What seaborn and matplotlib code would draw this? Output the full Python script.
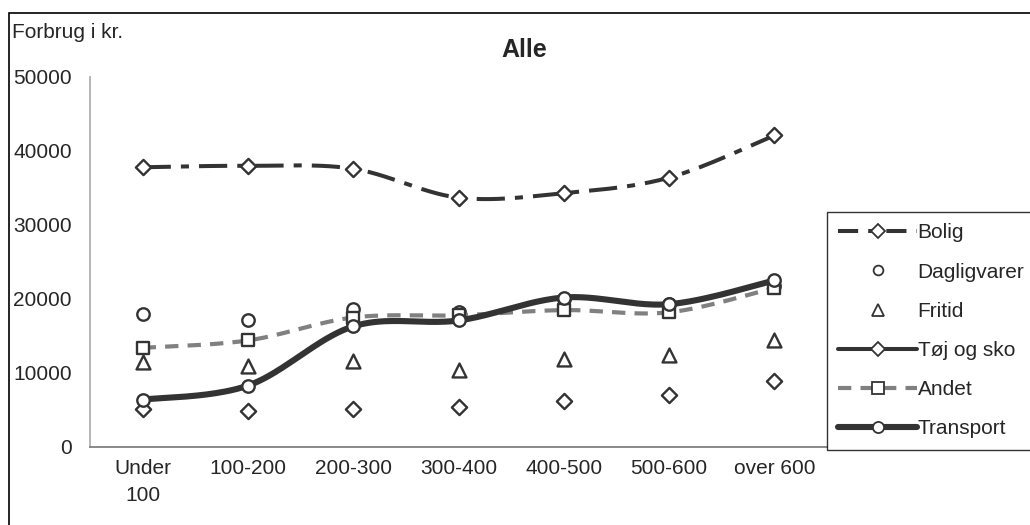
import numpy as np
import pandas as pd
import matplotlib
matplotlib.use("Agg")
import matplotlib.pyplot as plt
from matplotlib.lines import Line2D
from matplotlib.patches import Rectangle
import seaborn as sns

# Income groups (1000 kr.) and yearly spending per category (kr.)
categories = ["Under\n100", "100-200", "200-300", "300-400", "400-500", "500-600", "over 600"]
bolig = [37800, 38000, 37600, 33700, 34300, 36400, 42100]
dagligvarer = [18000, 17100, 18600, 18300, 20000, 19300, 21800]
fritid = [11500, 11000, 11600, 10400, 11900, 12400, 14500]
toj_og_sko = [5100, 4900, 5100, 5400, 6200, 7000, 8900]
andet = [13400, 14400, 17500, 17800, 18500, 18200, 21500]
transport = [6400, 8300, 16300, 17100, 20200, 19300, 22500]
y_ticks = [0, 10000, 20000, 30000, 40000, 50000]

DARK = "#333333"
GREY = "#808080"
FS = 15

sns.set_style("white")
plt.rcParams["font.family"] = ["Liberation Sans", "DejaVu Sans"]
plt.rcParams["font.size"] = FS


def smooth(ys, n=40):
    """Spreadsheet-style smoothed line: cubic Bezier through every point."""
    pts = np.column_stack([np.arange(len(ys), dtype=float), np.asarray(ys, float)])
    out = []
    for i in range(len(pts) - 1):
        p0 = pts[max(i - 1, 0)]
        p1 = pts[i]
        p2 = pts[i + 1]
        p3 = pts[min(i + 2, len(pts) - 1)]
        c1 = p1 + (p2 - p0) / 6.0
        c2 = p2 - (p3 - p1) / 6.0
        t = np.linspace(0, 1, n, endpoint=(i == len(pts) - 2))[:, None]
        seg = ((1 - t) ** 3) * p1 + 3 * ((1 - t) ** 2) * t * c1 + 3 * (1 - t) * t ** 2 * c2 + t ** 3 * p2
        out.append(seg)
    arr = np.vstack(out)
    return pd.DataFrame({"x": arr[:, 0], "y": arr[:, 1]})


fig = plt.figure(figsize=(10.3, 5.25), dpi=100)
ax = fig.add_axes([90 / 1030, 78 / 525, (827 - 90) / 1030, (447 - 77) / 525])

xs = np.arange(len(categories))

bolig_ls = (0, (7, 2.5, 2, 2.5))
andet_ls = (0, (3.2, 2.2))

# Bolig
sns.lineplot(data=smooth(bolig), x="x", y="y", ax=ax, color=DARK, linewidth=2.9,
             linestyle=bolig_ls, sort=False, estimator=None)
sns.scatterplot(x=xs, y=bolig, ax=ax, marker="D", s=60, facecolor="white",
                edgecolor=DARK, linewidth=1.7, zorder=5)
# Dagligvarer
sns.scatterplot(x=xs, y=dagligvarer, ax=ax, marker="o", s=80, facecolor="white",
                edgecolor=DARK, linewidth=1.7, zorder=5)
# Fritid
sns.scatterplot(x=xs, y=fritid, ax=ax, marker="^", s=100, facecolor="white",
                edgecolor=DARK, linewidth=1.7, zorder=5)
# Tøj og sko
sns.scatterplot(x=xs, y=toj_og_sko, ax=ax, marker="D", s=60, facecolor="white",
                edgecolor=DARK, linewidth=1.7, zorder=5)
# Andet
sns.lineplot(data=smooth(andet), x="x", y="y", ax=ax, color=GREY, linewidth=3.0,
             linestyle=andet_ls, sort=False, estimator=None, zorder=6)
sns.scatterplot(x=xs, y=andet, ax=ax, marker="s", s=80, facecolor="white",
                edgecolor=DARK, linewidth=1.7, zorder=7)
# Transport
sns.lineplot(data=smooth(transport), x="x", y="y", ax=ax, color=DARK, linewidth=4.4,
             sort=False, estimator=None, zorder=8)
sns.scatterplot(x=xs, y=transport, ax=ax, marker="o", s=80, facecolor="white",
                edgecolor=DARK, linewidth=1.7, zorder=9)

ax.set_xlim(-0.5, len(categories) - 0.5)
ax.set_ylim(0, 50000)
ax.set_xticks(xs)
ax.set_xticklabels(categories, linespacing=1.5)
ax.set_xticks(np.arange(-0.5, len(categories)), minor=True)
ax.set_yticks(y_ticks)
ax.set_yticklabels([str(v) for v in y_ticks])
ax.tick_params(axis="x", which="major", length=0, pad=9, labelsize=FS)
ax.tick_params(axis="x", which="minor", length=5, width=1.2, color=GREY, direction="out")
ax.tick_params(axis="y", length=5, width=1.2, color=GREY, direction="out", pad=8, labelsize=FS)
ax.set_xlabel("")
ax.set_ylabel("")
for side in ("top", "right"):
    ax.spines[side].set_visible(False)
ax.spines["left"].set_color("#b0b0b0")
ax.spines["bottom"].set_color(GREY)
for side in ("left", "bottom"):
    ax.spines[side].set_linewidth(1.3)
ax.grid(False)

# Legend
mk = dict(markerfacecolor="white", markeredgecolor=DARK, markeredgewidth=1.3)
handles = [
    Line2D([], [], color=DARK, lw=2.9, linestyle=(0, (5, 2.5, 2, 2.5)), marker="D", markersize=7, **mk),
    Line2D([], [], color=DARK, lw=0, marker="o", markersize=7, **mk),
    Line2D([], [], color=DARK, lw=0, marker="^", markersize=8, **mk),
    Line2D([], [], color=DARK, lw=2.9, marker="D", markersize=7, **mk),
    Line2D([], [], color=GREY, lw=3.0, linestyle=andet_ls, marker="s", markersize=8, **mk),
    Line2D([], [], color=DARK, lw=4.4, marker="o", markersize=8, **mk),
]
labels = ["Bolig", "Dagligvarer", "Fritid", "Tøj og sko", "Andet", "Transport"]
leg = fig.legend(handles, labels, loc="upper left",
                 bbox_to_anchor=(827 / 1030, 1 - 212 / 525), frameon=True,
                 fancybox=False, edgecolor="black", fontsize=FS,
                 handlelength=3.75, handletextpad=0.05, labelspacing=0.97,
                 borderpad=0.55, borderaxespad=0, numpoints=1)
leg.get_frame().set_linewidth(1.0)

# Title and axis caption
fig.text(524 / 1030, 1 - 50 / 525, "Alle", ha="center", va="center",
         fontsize=18, fontweight="bold")
fig.text(12 / 1030, 1 - 33 / 525, "Forbrug i kr.", ha="left", va="center", fontsize=FS)

# Outer chart frame
fig.patches.append(Rectangle((9 / 1030, -0.05), 1.2, 1 - 13 / 525 + 0.05,
                             transform=fig.transFigure, fill=False,
                             edgecolor="black", linewidth=1.2))

fig.savefig("out.png", dpi=100)
